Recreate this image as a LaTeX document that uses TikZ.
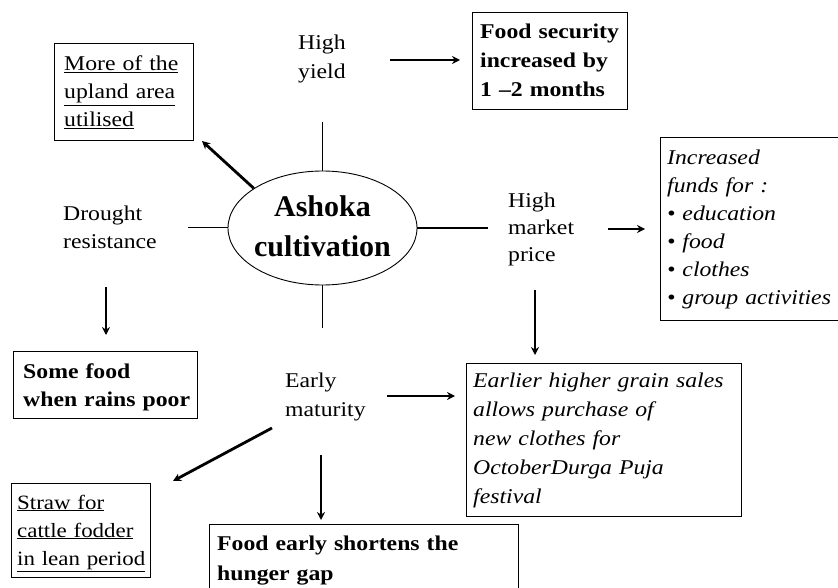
\documentclass[tikz,border=0pt]{standalone}
\usepackage{fontspec}
\setmainfont{Liberation Serif}[FakeStretch=1.13]
\newfontfamily\titlefont{Liberation Serif}
\usetikzlibrary{arrows.meta,shapes.geometric}
\tikzset{
  txt/.style={inner sep=0pt, anchor=base west, align=left, text width=#1,
    font=\fontsize{21}{28.5}\selectfont},
  box/.style={draw, line width=1.3pt, inner sep=0pt, anchor=north west},
  spoke/.style={line width=1pt},
  arr/.style={line width=2.8pt, -{Stealth[length=8pt,width=8pt]}},
}
\begin{document}
\begin{tikzpicture}[x=1pt,y=-1pt]
\useasboundingbox[fill=white] (0,0) rectangle (838,588);

% central ellipse
\node[ellipse, draw, line width=0.9pt, minimum width=189pt, minimum height=114pt, inner sep=0pt] (ell) at (322.5,228) {};
\node[inner sep=0pt, align=center, font=\titlefont\bfseries\fontsize{30}{40}\selectfont] (ellt) at (322.5,226) {Ashoka\\cultivation};

% boxes
\node[box, minimum width=139pt, minimum height=97pt] (up) at (54,43) {};
\node[box, minimum width=155pt, minimum height=97pt] (fs) at (472,12) {};
\node[box, minimum width=182pt, minimum height=183pt] (fu) at (660,137) {};
\node[box, minimum width=184pt, minimum height=67pt] (sf) at (13,351) {};
\node[box, minimum width=275pt, minimum height=153pt] (eb) at (466,363) {};
\node[box, minimum width=139pt, minimum height=94pt] (st) at (11,483) {};
\node[box, minimum width=309pt, minimum height=68pt] (fe) at (209,524) {};

% texts
\node[txt=130pt, font=\fontsize{21}{28}\selectfont] (upt) at (64,71) {\underline{More of the}\\\underline{upland area}\\\underline{utilised}};
\node[txt=80pt, font=\fontsize{21}{29}\selectfont] (hy) at (298,50) {High\\yield};
\node[txt=150pt, font=\bfseries\fontsize{21}{29}\selectfont] (fst) at (480,39) {Food security\\increased by\\1 --2 months};
\node[txt=175pt, font=\itshape\fontsize{21}{28}\selectfont] (fut) at (667,165) {Increased\\funds for :\\\textbullet\ education\\\textbullet\ food\\\textbullet\ clothes\\\textbullet\ group activities};
\node[txt=120pt, font=\fontsize{21}{28}\selectfont] (dr) at (63,221) {Drought\\resistance};
\node[txt=90pt, font=\fontsize{21}{27}\selectfont] (mp) at (508,208) {High\\market\\price};
\node[txt=180pt, font=\bfseries\fontsize{21}{28}\selectfont] (sft) at (23,378) {Some food\\when rains poor};
\node[txt=100pt, font=\fontsize{21}{29}\selectfont] (em) at (285,387) {Early\\maturity};
\node[txt=265pt, font=\itshape\fontsize{21}{29}\selectfont] (ebt) at (473,387) {Earlier higher grain sales\\allows purchase of\\new clothes for\\OctoberDurga Puja\\festival};
\node[txt=135pt, font=\fontsize{20.3}{28}\selectfont] (stt) at (17,509) {\underline{Straw for}\\\underline{cattle fodder}\\\underline{in lean period}};
\node[txt=295pt, font=\bfseries\fontsize{21}{30}\selectfont] (fet) at (217,550) {Food early shortens the\\hunger gap};

% free ends
\coordinate (spT) at (322.5,122);
\coordinate (spL) at (188,228);
\coordinate (spR) at (488,228);
\coordinate (spB) at (322.5,328);
\coordinate (upA) at (202,141);
\coordinate (hyA) at (390,60);
\coordinate (mpA) at (608,229);
\coordinate (mpB) at (535,290);
\coordinate (drA) at (106,287);
\coordinate (emA) at (387,396);
\coordinate (emB) at (272,428);
\coordinate (stA) at (173,481);
\coordinate (emC) at (321,455);

% spokes
\draw[spoke] (ell.north) -- (spT);
\draw[spoke] (ell.west) -- (spL);
\draw[line width=2.2pt] (ell.east) -- (spR);
\draw[spoke] (ell.south) -- (spB);

% arrows
\draw[arr] (ell.150) -- (upA);
\draw[arr, shorten >=12pt] (hyA) -- (fs.west |- hyA);
\draw[arr, shorten >=15pt] (mpA) -- (fu.west |- mpA);
\draw[arr, shorten >=8pt] (mpB) -- (mpB |- eb.north);
\draw[arr, shorten >=16pt] (drA) -- (drA |- sf.north);
\draw[arr, shorten >=11pt] (emA) -- (eb.west |- emA);
\draw[arr] (emB) -- (stA);
\draw[arr, shorten >=4pt] (emC) -- (emC |- fe.north);
\end{tikzpicture}
\end{document}
